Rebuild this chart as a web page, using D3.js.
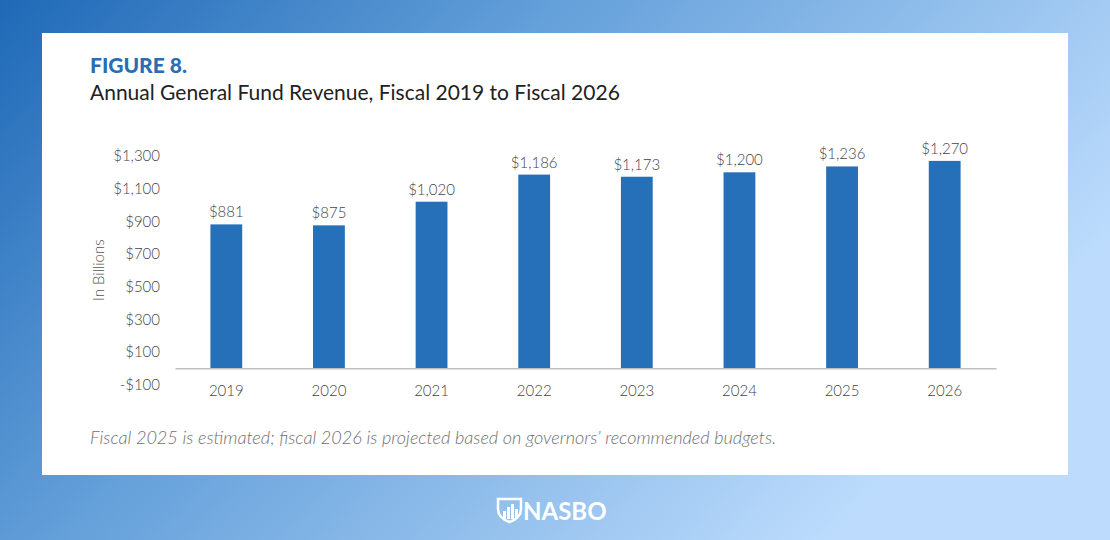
<!DOCTYPE html>
<html lang="en">
<head>
<meta charset="UTF-8">
<title>Annual General Fund Revenue</title>
<script src="https://cdn.jsdelivr.net/npm/d3@7"></script>
<style>
    html, body { margin: 0; padding: 0; }
    #chart { width: 1110px; height: 540px; }
    text { font-family: "Lato", "Open Sans", sans-serif; }
</style>
</head>
<body>
<div id="chart"></div>
<script>
    // data
    const years = ["2019", "2020", "2021", "2022", "2023", "2024", "2025", "2026"];
    const revenue = [881, 875, 1020, 1186, 1173, 1200, 1236, 1270];
    const yTicks = [-100, 100, 300, 500, 700, 900, 1100, 1300];

    const W = 1110, H = 540;
    const svg = d3.select("#chart").append("svg")
        .attr("width", W).attr("height", H);

    // background gradient
    const defs = svg.append("defs");
    const grad = defs.append("linearGradient").attr("id", "bg")
        .attr("x1", "0%").attr("y1", "0%").attr("x2", "100%").attr("y2", "45%");
    grad.append("stop").attr("offset", "0%").attr("stop-color", "#1f69b7");
    grad.append("stop").attr("offset", "42%").attr("stop-color", "#64a0da");
    grad.append("stop").attr("offset", "100%").attr("stop-color", "#bddcfd");
    svg.append("rect").attr("width", W).attr("height", H).attr("fill", "url(#bg)");

    // white panel
    svg.append("rect")
        .attr("x", 42).attr("y", 33)
        .attr("width", 1026).attr("height", 442)
        .attr("fill", "#ffffff");

    svg.append("text")
        .attr("x", 90).attr("y", 73)
        .attr("fill", "#2a6db3")
        .attr("font-size", 21).attr("font-weight", 900)
        .text("FIGURE 8.");
    svg.append("text")
        .attr("x", 90).attr("y", 100)
        .attr("fill", "#222")
        .attr("font-size", 21)
        .text("Annual General Fund Revenue, Fiscal 2019 to Fiscal 2026");

    const x = d3.scaleBand().domain(years).range([175, 996]).paddingInner(0.69).paddingOuter(0.345);
    const y = d3.scaleLinear().domain([-100, 1300]).range([384.5, 156]);

    // y axis labels (no line)
    const yAxis = d3.axisLeft(y).tickValues(yTicks).tickSize(0).tickPadding(0)
        .tickFormat(d => (d < 0 ? "-$" : "$") + d3.format(",")(Math.abs(d)));
    const gy = svg.append("g").attr("transform", "translate(160,0)").call(yAxis);
    gy.select(".domain").remove();
    gy.selectAll("text").attr("font-size", 15).attr("fill", "#444")
        .attr("font-weight", 300).attr("font-family", "Lato, sans-serif");

    svg.append("text")
        .attr("transform", `translate(104,${y(600)}) rotate(-90)`)
        .attr("text-anchor", "middle")
        .attr("font-size", 15).attr("fill", "#555").attr("font-weight", 300)
        .text("In Billions");

    // bars
    svg.selectAll("rect.bar")
        .data(revenue)
        .join("rect")
        .attr("class", "bar")
        .attr("x", (d, i) => x(years[i]))
        .attr("y", d => y(d))
        .attr("width", x.bandwidth())
        .attr("height", d => y(0) - y(d))
        .attr("fill", "#2570b9");

    // zero line + x labels
    const xAxis = d3.axisBottom(x).tickSize(0).tickPadding(17);
    const gx = svg.append("g").attr("transform", `translate(0,${y(0)})`).call(xAxis);
    gx.select(".domain").attr("stroke", "#bfbfbf").attr("stroke-width", 1.5);
    gx.selectAll("text").attr("font-size", 15).attr("fill", "#444")
        .attr("font-weight", 300).attr("font-family", "Lato, sans-serif");

    // value labels
    svg.selectAll("text.val")
        .data(revenue)
        .join("text")
        .attr("class", "val")
        .attr("x", (d, i) => x(years[i]) + x.bandwidth() / 2)
        .attr("y", d => y(d) - 7)
        .attr("text-anchor", "middle")
        .attr("font-size", 15).attr("fill", "#444").attr("font-weight", 300)
        .text(d => "$" + d3.format(",")(d));

    svg.append("text")
        .attr("x", 90).attr("y", 444)
        .attr("fill", "#707070")
        .attr("font-size", 18.1).attr("font-style", "italic").attr("font-weight", 300)
        .text("Fiscal 2025 is estimated; fiscal 2026 is projected based on governors\u2019 recommended budgets.");

    // NASBO logo
    const logo = svg.append("g").attr("transform", "translate(497,497)");
    logo.append("path")
        .attr("d", "M1,2 L24,2 L24,12 Q24,21 12.5,25 Q1,21 1,12 Z")
        .attr("fill", "none").attr("stroke", "#fff").attr("stroke-width", 2.5);
    [[6, 14, 3], [10, 10, 3], [14, 7, 3], [18, 12, 3]].forEach(b => {
        logo.append("rect").attr("x", b[0]).attr("y", b[1]).attr("width", b[2])
            .attr("height", 22 - b[1]).attr("fill", "#fff");
    });
    svg.append("text")
        .attr("x", 523).attr("y", 520)
        .attr("fill", "#fff")
        .attr("font-size", 24).attr("font-weight", 700)
        .attr("font-family", "Roboto, sans-serif")
        .text("NASBO");
</script>
</body>
</html>
